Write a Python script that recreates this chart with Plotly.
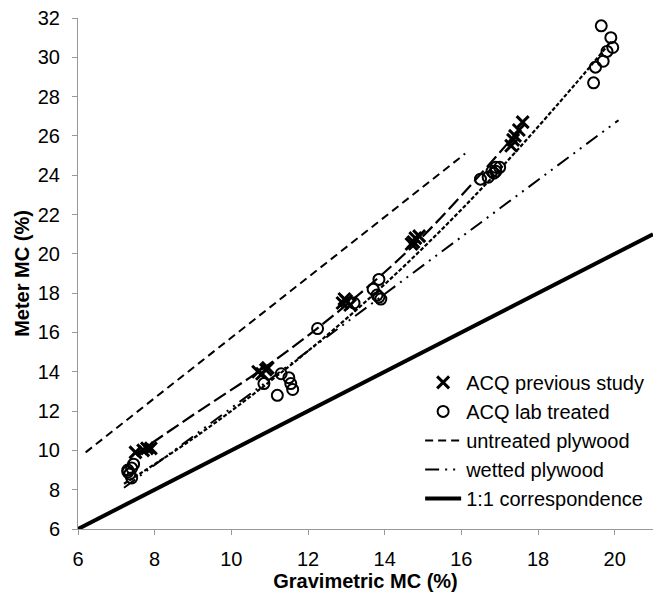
import plotly.graph_objects as go

# ACQ previous study (x markers)
prev_x = [7.5, 7.7, 7.8, 7.9, 10.7, 10.8, 10.9, 10.95, 12.9, 12.95, 13.0, 13.1,
          14.7, 14.75, 14.8, 14.9, 17.3, 17.35, 17.4, 17.5, 17.6]
prev_y = [9.9, 10.0, 10.1, 10.1, 14.0, 13.9, 14.1, 14.2, 17.5, 17.7, 17.6, 17.4,
          20.5, 20.6, 20.8, 20.9, 25.5, 25.8, 26.0, 26.3, 26.7]

# ACQ lab treated (open circles)
lab_x = [7.3, 7.3, 7.35, 7.4, 7.4, 7.45, 10.85, 11.2, 11.3, 11.5, 11.55, 11.6,
         12.25, 13.2, 13.7, 13.85, 13.8, 13.9, 13.85,
         16.5, 16.7, 16.8, 16.85, 16.9, 16.9, 17.0,
         19.45, 19.5, 19.7, 19.8, 19.9, 19.95, 19.65]
lab_y = [9.0, 8.9, 8.8, 8.6, 9.1, 9.3, 13.4, 12.8, 13.9, 13.7, 13.4, 13.1,
         16.2, 17.5, 18.2, 18.7, 17.9, 17.7, 17.8,
         23.8, 23.9, 24.2, 24.1, 24.4, 24.2, 24.4,
         28.7, 29.5, 29.8, 30.3, 31.0, 30.5, 31.6]

# fitted curve through ACQ lab treated (short dashes)
labfit_x = [7.2, 9, 11, 13, 15, 17, 19, 19.9]
labfit_y = [8.3, 10.6, 13.5, 16.7, 20.3, 24.3, 28.7, 30.8]

# fitted curve through ACQ previous study (long dashes)
prevfit_x = [7.5, 9, 11, 13, 15, 17.6]
prevfit_y = [9.8, 11.8, 14.4, 17.4, 20.9, 26.5]

# untreated plywood
untr_x = [6.2, 16.1]
untr_y = [9.9, 25.1]

# wetted plywood
wet_x = [7.2, 20.1]
wet_y = [8.1, 26.8]

# 1:1 correspondence
one_x = [6, 21]
one_y = [6, 21]

x_ticks = [6, 8, 10, 12, 14, 16, 18, 20]
y_ticks = [6, 8, 10, 12, 14, 16, 18, 20, 22, 24, 26, 28, 30, 32]

fig = go.Figure()

fig.add_trace(go.Scatter(x=labfit_x, y=labfit_y, mode="lines", line=dict(color="black", width=2.2, dash="4px,2px", shape="spline"),
                         showlegend=False))
fig.add_trace(go.Scatter(x=prevfit_x, y=prevfit_y, mode="lines", line=dict(color="black", width=2.2, dash="14px,5px", shape="spline"),
                         showlegend=False))

fig.add_trace(go.Scatter(x=prev_x, y=prev_y, mode="markers", name="ACQ previous study", legendgroup="a",
                         marker=dict(symbol="x-thin-open", size=12, line=dict(color="black", width=3), color="black")))
fig.add_trace(go.Scatter(x=lab_x, y=lab_y, mode="markers", name="ACQ lab treated", legendgroup="b",
                         marker=dict(symbol="circle-open", size=11, line=dict(color="black", width=2), color="black")))
fig.add_trace(go.Scatter(x=untr_x, y=untr_y, mode="lines", name="untreated plywood", legendgroup="c",
                         line=dict(color="black", width=2, dash="8px,5px")))
fig.add_trace(go.Scatter(x=wet_x, y=wet_y, mode="lines", name="wetted plywood", legendgroup="d",
                         line=dict(color="black", width=2, dash="14px,6px,2px,6px,2px,6px")))
fig.add_trace(go.Scatter(x=one_x, y=one_y, mode="lines", name="1:1 correspondence", legendgroup="e",
                         line=dict(color="black", width=4)))

font = "Liberation Sans, Arial, sans-serif"
fig.update_layout(
    width=660, height=599,
    margin=dict(l=78, r=7, t=16, b=70),
    paper_bgcolor="white", plot_bgcolor="white",
    font=dict(family=font, size=20, color="black"),
    legend=dict(x=0.595, y=0.325, xanchor="left", yanchor="top", tracegroupgap=0, itemwidth=36,
                font=dict(family=font, size=20, color="black"), bgcolor="rgba(0,0,0,0)"),
    xaxis=dict(range=[6, 21], tickvals=x_ticks, showgrid=False, zeroline=False,
               showline=True, linecolor="#999999", linewidth=1, ticks="outside", tickcolor="#999999",
               ticklen=5, ticklabelstandoff=7,
               title=dict(text="<b>Gravimetric MC (%)</b>", font=dict(size=20), standoff=3)),
    yaxis=dict(range=[6, 32], tickvals=y_ticks, showgrid=False, zeroline=False,
               showline=True, linecolor="#999999", linewidth=1, ticks="outside", tickcolor="#999999",
               ticklen=5, ticklabelstandoff=8,
               title=dict(text="<b>Meter MC (%)</b>", font=dict(size=20), standoff=2)),
)

fig.write_html("out.html")
